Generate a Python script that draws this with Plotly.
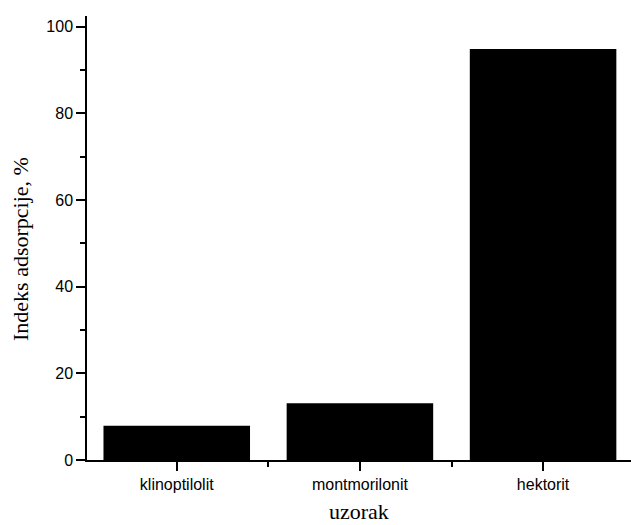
import plotly.graph_objects as go

categories = ["klinoptilolit", "montmorilonit", "hektorit"]
values = [7.9, 13.1, 94.9]
y_ticks = [0, 20, 40, 60, 80, 100]

x_pos = list(range(len(categories)))

fig = go.Figure()
fig.add_trace(go.Bar(
    x=x_pos, y=values, width=0.8,
    marker=dict(color="black", line=dict(width=0)),
))

fig.update_layout(
    width=631, height=525,
    margin=dict(l=87, r=0, t=16, b=65),
    plot_bgcolor="white", paper_bgcolor="white",
    showlegend=False,
)
fig.update_xaxes(
    range=[-0.49, 2.48],
    tickvals=x_pos, ticktext=categories,
    showline=True, linecolor="black", linewidth=1.5,
    ticks="outside", ticklen=9, tickwidth=1.5, tickcolor="black",
    minor=dict(tick0=0.5, dtick=1, ticks="outside", ticklen=5, tickwidth=1.5, tickcolor="black"),
    showgrid=False, zeroline=False,
    tickfont=dict(family="Liberation Sans, Arial", size=16, color="black"),
)
fig.update_yaxes(
    range=[0, 102.5],
    tickvals=y_ticks,
    showline=True, linecolor="black", linewidth=1.5,
    ticks="outside", ticklen=9, tickwidth=1.5, tickcolor="black",
    minor=dict(dtick=10, ticks="outside", ticklen=5, tickwidth=1.5, tickcolor="black"),
    showgrid=False, zeroline=False,
    tickfont=dict(family="Liberation Sans, Arial", size=16, color="black"),
)
fig.add_annotation(
    text="Indeks adsorpcije, %", textangle=-90,
    xref="paper", yref="paper", x=0, y=0, xanchor="center", yanchor="middle",
    xshift=-67, yshift=211, showarrow=False,
    font=dict(family="Liberation Serif, Times New Roman", size=22, color="black"),
)
fig.add_annotation(
    text="uzorak",
    xref="paper", yref="paper", x=0.5, y=0, xanchor="center", yanchor="middle",
    yshift=-51, showarrow=False,
    font=dict(family="Liberation Serif, Times New Roman", size=22, color="black"),
)
fig.write_html("out.html", config={"displayModeBar": False},
               post_script="document.body.style.margin='0';")
